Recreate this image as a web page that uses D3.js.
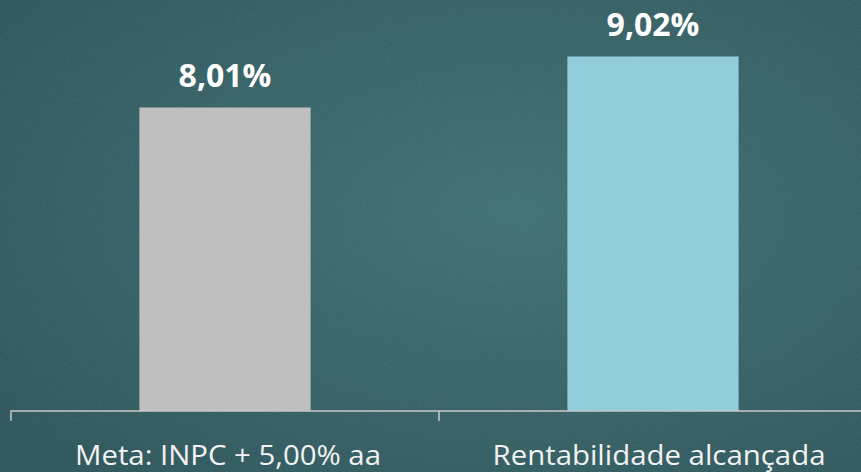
<!DOCTYPE html>
<html>
<head>
    <meta charset="utf-8">
    <title>Rentabilidade</title>
    <script src="https://cdn.jsdelivr.net/npm/d3@7/dist/d3.min.js"></script>
    <style>
        body { margin: 0; background: #2f5b5f; }
    </style>
</head>
<body>
    <svg width="861" height="472" id="mainsvg"></svg>
    <script>
        const categories = ['Meta: INPC + 5,00% aa', 'Rentabilidade alcançada'];
        const values = [8.01, 9.02];
        const valueLabels = ['8,01%', '9,02%'];
        const barColors = ['#bfbfbf', '#92cddc'];

        const svg = d3.select('#mainsvg');
        const width = +svg.attr('width');
        const height = +svg.attr('height');

        // chalkboard background
        const defs = svg.append('defs');
        const grad = defs.append('radialGradient').attr('id', 'bg')
            .attr('cx', '60%').attr('cy', '45%').attr('r', '75%');
        grad.append('stop').attr('offset', '0%').attr('stop-color', '#3c6d70');
        grad.append('stop').attr('offset', '100%').attr('stop-color', '#295257');
        const noise = defs.append('filter').attr('id', 'chalk')
            .attr('x', 0).attr('y', 0).attr('width', '100%').attr('height', '100%');
        noise.append('feTurbulence').attr('type', 'fractalNoise')
            .attr('baseFrequency', 0.8).attr('numOctaves', 3).attr('seed', 3).attr('result', 'n');
        noise.append('feColorMatrix').attr('type', 'matrix')
            .attr('values', '0 0 0 0 1  0 0 0 0 1  0 0 0 0 1  0 0 0 0.09 0');
        svg.append('rect').attr('width', width).attr('height', height).attr('fill', 'url(#bg)');
        svg.append('rect').attr('width', width).attr('height', height).attr('filter', 'url(#chalk)');

        const xScale = d3.scaleBand()
            .domain(categories)
            .range([11, 867])
            .paddingInner(0.6)
            .paddingOuter(0.3);

        const yScale = d3.scaleLinear()
            .domain([2, 10])
            .range([411, 7]);

        const g = svg.append('g');

        g.selectAll('.bar').data(categories).join('rect')
            .attr('class', 'bar')
            .attr('x', d => xScale(d))
            .attr('y', (d, i) => yScale(values[i]))
            .attr('width', xScale.bandwidth())
            .attr('height', (d, i) => yScale(2) - yScale(values[i]))
            .attr('fill', (d, i) => barColors[i]);

        g.selectAll('.vlabel').data(categories).join('text')
            .attr('class', 'vlabel')
            .attr('x', d => xScale(d) + xScale.bandwidth() / 2)
            .attr('y', (d, i) => yScale(values[i]) - 20)
            .attr('text-anchor', 'middle')
            .attr('fill', '#ffffff')
            .attr('font-family', 'Open Sans, sans-serif')
            .attr('font-weight', 'bold')
            .attr('font-size', 32)
            .text((d, i) => valueLabels[i]);

        // x axis with ticks between categories
        const xAxis = d3.axisBottom(xScale).tickSize(0).tickFormat('');
        const axisG = g.append('g').attr('transform', 'translate(0, 411)').call(xAxis);
        axisG.select('.domain').attr('stroke', '#c8c8c8').attr('stroke-width', 1.5)
            .attr('d', 'M11,10V0H867');
        axisG.selectAll('.sep').data(categories.slice(1)).join('line')
            .attr('class', 'sep')
            .attr('x1', d => xScale(d) - xScale.step() * xScale.paddingInner() / 2)
            .attr('x2', d => xScale(d) - xScale.step() * xScale.paddingInner() / 2)
            .attr('y1', 0).attr('y2', 10)
            .attr('stroke', '#c8c8c8').attr('stroke-width', 1.5);

        const labelWidths = [306, 333];
        axisG.selectAll('.clabel').data(categories).join('text')
            .attr('class', 'clabel')
            .attr('x', (d, i) => xScale(d) + xScale.bandwidth() / 2 + 3 + i * 3)
            .attr('y', 54)
            .attr('text-anchor', 'middle')
            .attr('fill', '#f2f2f2')
            .attr('font-family', 'Open Sans, sans-serif')
            .attr('font-size', 28)
            .attr('textLength', (d, i) => labelWidths[i])
            .attr('lengthAdjust', 'spacingAndGlyphs')
            .text(d => d);
    </script>
</body>
</html>
